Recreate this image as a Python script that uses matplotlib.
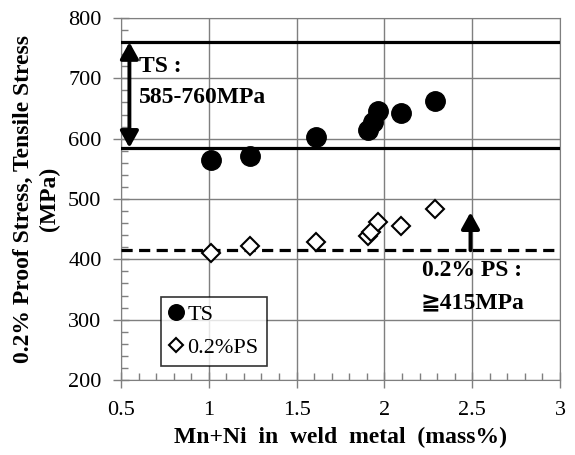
import matplotlib
matplotlib.use("Agg")
import matplotlib.pyplot as plt
from matplotlib.ticker import MultipleLocator

# data
mn_ni = [1.01, 1.235, 1.61, 1.905, 1.933, 1.962, 2.094, 2.29]
ts = [565, 571, 602, 614, 628, 646, 642, 662]
ps_x = [1.01, 1.235, 1.61, 1.905, 1.925, 1.962, 2.094, 2.29]
ps = [411, 422, 429, 438, 446, 462, 455, 483]

ts_min, ts_max = 585, 760
ps_min = 415

x_ticks = [0.5, 1, 1.5, 2, 2.5, 3]
x_tick_labels = ["0.5", "1", "1.5", "2", "2.5", "3"]
y_ticks = [200, 300, 400, 500, 600, 700, 800]

plt.rcParams['font.family'] = ['Liberation Serif', 'DejaVu Serif', 'DejaVu Sans']

fig = plt.figure(figsize=(5.75, 4.55), dpi=100)
ax = fig.add_axes([0.2104, 0.1648, 0.7636, 0.7956])

ax.set_xlim(0.5, 3)
ax.set_ylim(200, 800)
ax.set_xticks(x_ticks)
ax.set_xticklabels(x_tick_labels)
ax.set_yticks(y_ticks)
ax.xaxis.set_minor_locator(MultipleLocator(0.1))
ax.yaxis.set_minor_locator(MultipleLocator(20))
ax.grid(True, which='major', color='#7f7f7f', linewidth=1.0)
ax.set_axisbelow(True)
ax.tick_params(which='major', direction='inout', length=12, width=1, color='#7f7f7f',
               labelsize=16)
ax.tick_params(which='minor', direction='in', length=5, width=1, color='#7f7f7f')
ax.tick_params(axis='y', which='major', pad=8)
ax.tick_params(axis='x', which='major', pad=9)
for side in ['top', 'right', 'left', 'bottom']:
    ax.spines[side].set_color('#7f7f7f')

# requirement lines
ax.axhline(ts_max, color='black', linewidth=2.3, zorder=3)
ax.axhline(ts_min, color='black', linewidth=2.3, zorder=3)
ax.axhline(ps_min, color='black', linewidth=2.3, linestyle=(0, (3.5, 2)), zorder=3)

ax.plot(mn_ni, ts, 'o', color='black', markersize=14, label='TS', zorder=4)
ax.plot(ps_x, ps, 'D', markerfacecolor='white', markeredgecolor='black',
        markeredgewidth=1.5, markersize=9, label='0.2%PS', zorder=4)

# arrows
ax.annotate('', xy=(0.548, ts_max), xytext=(0.548, ts_min),
            arrowprops=dict(arrowstyle='<|-|>,head_length=0.45,head_width=0.25',
                            color='black', lw=2.8, mutation_scale=22,
                            shrinkA=0, shrinkB=0), zorder=5)
ax.annotate('', xy=(2.49, 478), xytext=(2.49, ps_min),
            arrowprops=dict(arrowstyle='-|>,head_length=0.45,head_width=0.25',
                            color='black', lw=2.8, mutation_scale=22,
                            shrinkA=0, shrinkB=0), zorder=5)

ax.text(0.6, 719, 'TS :', fontsize=17, fontweight='bold', va='center', ha='left')
ax.text(0.6, 668, '585-760MPa', fontsize=17, fontweight='bold', va='center', ha='left')
ax.text(2.5, 382, '0.2% PS :', fontsize=17, fontweight='bold', va='center', ha='center')
ax.text(2.5, 327, '≧415MPa', fontsize=17, fontweight='bold', va='center', ha='center')

leg = ax.legend(loc='lower left', bbox_to_anchor=(0.091, 0.04), fontsize=16,
                frameon=True, fancybox=False, edgecolor='black', handlelength=0.7,
                handletextpad=0.15, borderpad=0.35, labelspacing=0.55, borderaxespad=0,
                markerscale=0.8)
leg.get_frame().set_linewidth(1.2)

ax.set_xlabel('Mn+Ni  in  weld  metal  (mass%)', fontsize=17, fontweight='bold', labelpad=5)
ax.set_ylabel('0.2% Proof Stress, Tensile Stress\n(MPa)', fontsize=17,
              fontweight='bold', labelpad=6, linespacing=1.3)

fig.savefig('out.png', dpi=100)
